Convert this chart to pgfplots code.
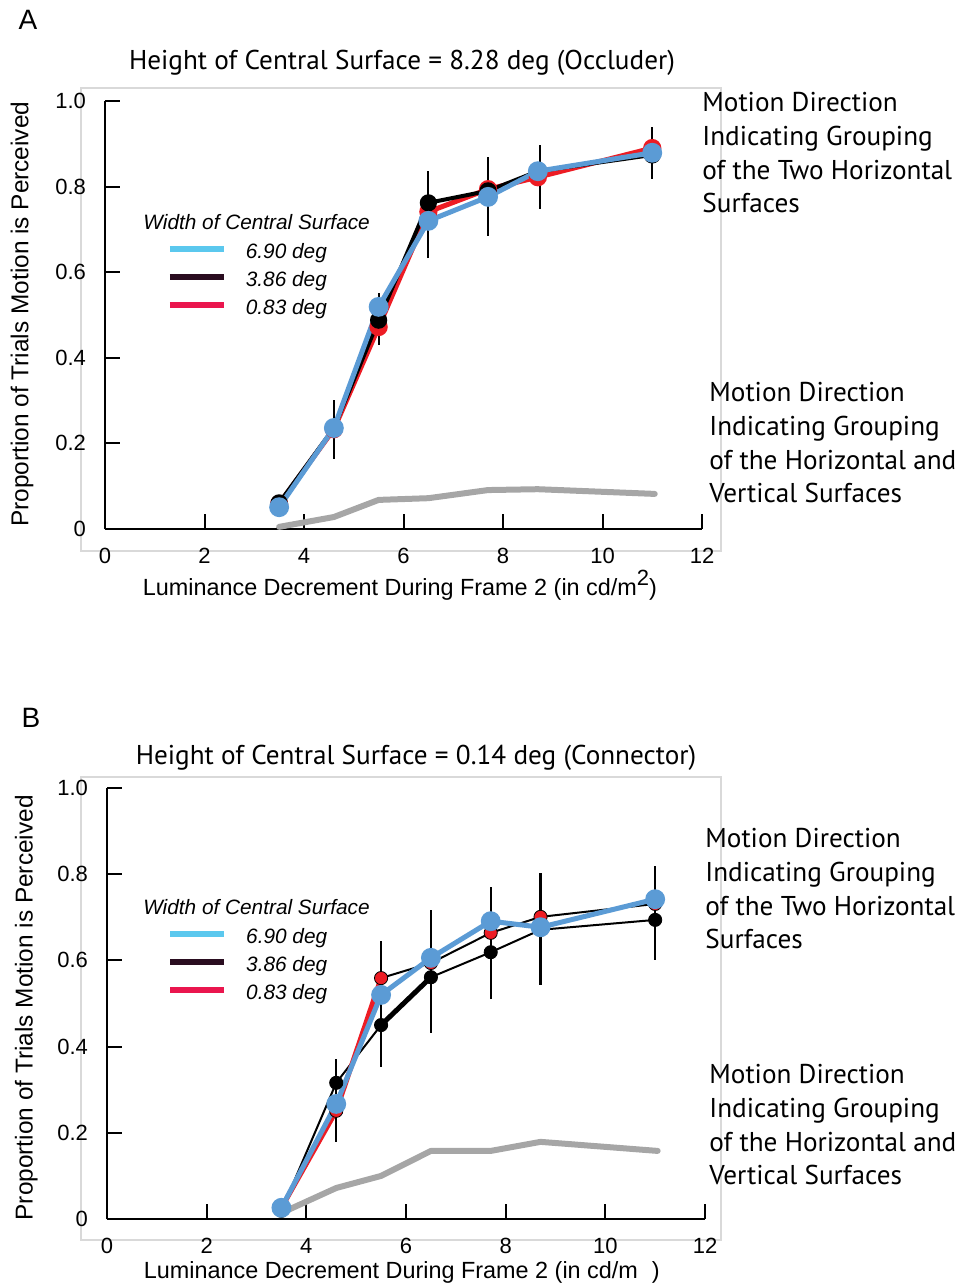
\documentclass[border=0pt]{standalone}
\usepackage{pgfplots}
\pgfplotsset{compat=1.18}
\usepackage{fontspec}
\setmainfont{Liberation Sans}
\newfontfamily\myriad{PT Sans}
\definecolor{plotblue}{RGB}{91,155,213}
\definecolor{plotred}{RGB}{237,28,36}
\definecolor{plotgray}{RGB}{166,166,166}
\definecolor{legcyan}{RGB}{91,200,238}
\definecolor{legblack}{RGB}{42,13,32}
\definecolor{legred}{RGB}{234,22,78}
\definecolor{framegray}{RGB}{217,217,217}
\pgfplotsset{
  panel/.style={
    scale only axis,
    xmin=0, xmax=12, ymin=0, ymax=1,
    axis x line=bottom, axis y line=left,
    axis line style={-, line width=1pt, black},
    tick align=inside,
    major tick length=7.5pt,
    every tick/.style={black, line width=1pt},
    xtick={0,2,4,6,8,10,12},
    ytick={0,0.2,0.4,0.6,0.8,1},
    xticklabels={0,2,4,6,8,10,12},
    yticklabels={0,0.2,0.4,0.6,0.8,1.0},
    tick label style={font=\fontsize{11}{12}\selectfont},
    xticklabel style={yshift=-6pt},
    yticklabel style={xshift=-6pt},
    /pgf/number format/assume math mode=true,
    xlabel style={font=\fontsize{11.7}{13}\selectfont},
    ylabel style={font=\fontsize{12.2}{13}\selectfont},
    clip=false,
    legend image code/.code={\draw[#1, line width=3pt] (0pt,2pt) -- (27pt,2pt);},
    legend cell align=left,
    legend style={draw=none, fill=none, inner sep=0pt, row sep=4.6pt,
      font=\itshape\fontsize{10.4}{12}\selectfont,
      nodes={inner sep=0pt, text height=7.5pt, text depth=2pt},
      /tikz/every odd column/.append style={column sep=9.5pt}},
  },
  errbar/.style={black, line width=1.1pt, unbounded coords=jump, forget plot},
  grayline/.style={plotgray, line width=3pt, line join=round, line cap=round, forget plot},
}
\begin{document}
\begin{tikzpicture}
\path[use as bounding box] (0pt,0pt) rectangle (485pt,-642.5pt);
% frames
\draw[framegray, line width=1pt] (40.5pt,-44pt) rectangle (360.5pt,-275.5pt);
\draw[framegray, line width=1pt] (40.5pt,-388.5pt) rectangle (360.5pt,-620pt);
% panel letters and titles
\node[font=\fontsize{14}{16}\selectfont] at (14pt,-10pt) {A};
\node[font=\fontsize{14}{16}\selectfont] at (15.5pt,-359pt) {B};
\node[font=\myriad\fontsize{13.6}{16}\selectfont] at (201pt,-31.5pt) {Height of Central Surface = 8.28 deg (Occluder)};
\node[font=\myriad\fontsize{13.6}{16}\selectfont] at (208pt,-379pt) {Height of Central Surface = 0.14 deg (Connector)};
% annotations
\node[font=\myriad\fontsize{13.6}{16.85}\selectfont, align=left, anchor=north west, inner sep=0pt] at (351pt,-46pt)
  {Motion Direction\\Indicating Grouping\\of the Two Horizontal\\Surfaces};
\node[font=\myriad\fontsize{13.6}{16.85}\selectfont, align=left, anchor=north west, inner sep=0pt] at (354.5pt,-191pt)
  {Motion Direction\\Indicating Grouping\\of the Horizontal and\\Vertical Surfaces};
\node[font=\myriad\fontsize{13.6}{16.85}\selectfont, align=left, anchor=north west, inner sep=0pt] at (352.5pt,-414pt)
  {Motion Direction\\Indicating Grouping\\of the Two Horizontal\\Surfaces};
\node[font=\myriad\fontsize{13.6}{16.85}\selectfont, align=left, anchor=north west, inner sep=0pt] at (354.5pt,-532pt)
  {Motion Direction\\Indicating Grouping\\of the Horizontal and\\Vertical Surfaces};

% ---------------- Panel A ----------------
\begin{axis}[panel,
  at={(52.5pt,-264.5pt)}, anchor=south west,
  width=298.5pt, height=214pt,
  xlabel={Luminance Decrement During Frame 2 (in cd/m\raisebox{5pt}{\fontsize{11}{11}\selectfont 2})},
  ylabel={Proportion of Trials Motion is Perceived},
  xlabel style={at={(axis description cs:0.494,-0.131)}, anchor=center},
  ylabel style={at={(axis description cs:-0.139,0.502)}, anchor=center},
  legend style={at={(axis description cs:0.103,0.669)}, anchor=north west},
]
\addplot[grayline] coordinates {(3.5,0.005) (4.6,0.028) (5.5,0.068) (6.5,0.072) (7.7,0.091) (8.7,0.093) (11.05,0.082)};
\addplot[errbar] coordinates {
 (4.6,0.164) (4.6,0.301) (4.6,nan)
 (5.5,0.430) (5.5,0.551) (5.5,nan)
 (6.5,0.633) (6.5,0.836) (6.5,nan)
 (7.7,0.685) (7.7,0.869) (7.7,nan)
 (8.75,0.748) (8.75,0.897) (8.75,nan)
 (11.0,0.818) (11.0,0.939)};
\addplot[plotred, line width=2.5pt, mark=*, mark size=3.3pt, mark options={draw=none, fill=plotred}, forget plot]
 coordinates {(3.5,0.058) (4.6,0.233) (5.5,0.472) (6.5,0.741) (7.7,0.794) (8.7,0.822) (11.0,0.890)};
\addplot[black, line width=2pt, mark=*, mark size=3.3pt, mark options={draw=none, fill=black}, forget plot]
 coordinates {(3.5,0.061) (4.6,0.236) (5.5,0.488) (6.5,0.762) (7.7,0.790) (8.7,0.836) (11.0,0.874)};
\addplot[plotblue, line width=2.5pt, mark=*, mark size=3.7pt, mark options={draw=none, fill=plotblue}, forget plot]
 coordinates {(3.5,0.051) (4.6,0.236) (5.5,0.519) (6.5,0.720) (7.7,0.776) (8.7,0.836) (11.0,0.879)};
\addlegendimage{legcyan}\addlegendentry{6.90 deg}
\addlegendimage{legblack}\addlegendentry{3.86 deg}
\addlegendimage{legred}\addlegendentry{0.83 deg}
\node[anchor=base west, inner sep=0pt, font=\itshape\fontsize{10.4}{12}\selectfont] at (axis description cs:0.0637,0.700) {Width of Central Surface};
\end{axis}

% ---------------- Panel B ----------------
\begin{axis}[panel,
  at={(53.5pt,-609.5pt)}, anchor=south west,
  width=299pt, height=215.5pt,
  xlabel={Luminance Decrement During Frame 2 (in cd/m\hspace{7pt})},
  ylabel={Proportion of Trials Motion is Perceived},
  xlabel style={at={(axis description cs:0.493,-0.125)}, anchor=center},
  ylabel style={at={(axis description cs:-0.135,0.49)}, anchor=center},
  legend style={at={(axis description cs:0.100,0.676)}, anchor=north west},
]
\addplot[grayline] coordinates {(3.5,0.014) (4.6,0.072) (5.5,0.100) (6.5,0.158) (7.7,0.158) (8.7,0.179) (11.05,0.158)};
\addplot[errbar] coordinates {
 (4.6,0.179) (4.6,0.371) (4.6,nan)
 (5.5,0.353) (5.5,0.645) (5.5,nan)
 (6.5,0.432) (6.5,0.717) (6.5,nan)
 (7.7,0.510) (7.7,0.770) (7.7,nan)
 (8.7,0.543) (8.7,0.803) (8.7,nan)
 (11.0,0.601) (11.0,0.819)};
% thin connecting lines
\addplot[black, line width=1pt, forget plot]
 coordinates {(3.5,0.019) (4.6,0.316) (5.5,0.450) (6.5,0.561) (7.7,0.619) (8.7,0.671) (11.0,0.694)};
\addplot[black, line width=2.5pt, forget plot]
 coordinates {(5.5,0.450) (6.5,0.561)};
\addplot[black, line width=1pt, forget plot]
 coordinates {(5.5,0.559) (6.5,0.594) (7.7,0.664) (8.7,0.701) (11.0,0.731)};
\addplot[plotred, line width=2.5pt, forget plot]
 coordinates {(3.5,0.026) (4.6,0.251) (5.5,0.559)};
% markers
\addplot[only marks, mark=*, mark size=3.3pt, mark options={draw=none, fill=black}, forget plot]
 coordinates {(3.5,0.019) (4.6,0.316) (5.5,0.450) (6.5,0.561) (7.7,0.619) (8.7,0.671) (11.0,0.694)};
\addplot[only marks, mark=*, mark size=3.3pt, mark options={draw=none, fill=plotred}, forget plot]
 coordinates {(3.5,0.026) (4.6,0.251) (5.5,0.559) (6.5,0.594) (7.7,0.664) (8.7,0.701) (11.0,0.731)};
\addplot[plotblue, line width=2.5pt, mark=*, mark size=3.7pt, mark options={draw=none, fill=plotblue}, forget plot]
 coordinates {(3.5,0.026) (4.6,0.267) (5.5,0.520) (6.5,0.606) (7.7,0.691) (8.7,0.677) (11.0,0.742)};
\addlegendimage{legcyan}\addlegendentry{6.90 deg}
\addlegendimage{legblack}\addlegendentry{3.86 deg}
\addlegendimage{legred}\addlegendentry{0.83 deg}
\node[anchor=base west, inner sep=0pt, font=\itshape\fontsize{10.4}{12}\selectfont] at (axis description cs:0.060,0.7065) {Width of Central Surface};
\end{axis}
\end{tikzpicture}
\end{document}
